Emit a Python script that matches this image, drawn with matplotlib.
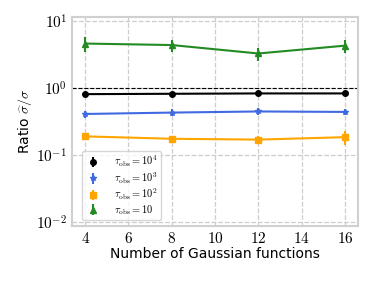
import numpy as np
import matplotlib
matplotlib.use("Agg")
import matplotlib.pyplot as plt
from matplotlib.ticker import FuncFormatter, NullLocator

plt.rcParams['mathtext.fontset'] = 'cm'
plt.rcParams['font.family'] = ['DejaVu Sans']

# number of gaussian functions
n_gauss = [4, 8, 12, 16]

# ratio sigma_hat / sigma for each observation time
r_1e4 = [0.81, 0.82, 0.83, 0.83]
e_1e4 = [0.02, 0.02, 0.02, 0.02]
r_1e3 = [0.41, 0.43, 0.447, 0.44]
e_1e3 = [0.05, 0.05, 0.05, 0.05]
r_1e2 = [0.19, 0.175, 0.17, 0.185]
e_1e2 = [0.02, 0.02, 0.02, 0.045]
r_1e1 = [4.6, 4.37, 3.27, 4.28]
e_1e1 = [1.2, 0.9, 0.7, 0.9]

labels = [r'$\tau_{\rm obs}=10^4$', r'$\tau_{\rm obs}=10^3$',
          r'$\tau_{\rm obs}=10^2$', r'$\tau_{\rm obs}=10$']
colors = ['black', 'royalblue', 'orange', 'forestgreen']
markers = ['o', '*', 's', '^']

fig, ax = plt.subplots(figsize=(3.74, 2.81), dpi=100)

series = [(r_1e4, e_1e4), (r_1e3, e_1e3), (r_1e2, e_1e2), (r_1e1, e_1e1)]
for (r, e), lab, c, m in zip(series, labels, colors, markers):
    ax.plot(n_gauss, r, color=c, lw=1.5)
    ax.errorbar(n_gauss, r, yerr=e, fmt=m, color=c, ms=4, elinewidth=1.5,
                linestyle='none', label=lab)

ax.axhline(1.0, color='black', ls='--', lw=0.8)

ax.set_yscale('log')
ax.set_ylim(8.7e-3, 11.5)
ax.yaxis.set_major_formatter(FuncFormatter(lambda v, p: r'$10^{%d}$' % round(np.log10(v))))
ax.yaxis.set_minor_locator(NullLocator())
ax.set_xticks([4, 6, 8, 10, 12, 14, 16])
ax.xaxis.set_major_formatter(FuncFormatter(lambda v, p: r'$%d$' % v))
ax.tick_params(length=0, labelsize=11)
ax.grid(True, ls='--', color='#cccccc', lw=0.9)
for s in ax.spines.values():
    s.set_color('#d0d0d0')
    s.set_linewidth(1.5)

ax.set_xlabel('Number of Gaussian functions', fontsize=10, labelpad=1)
ax.set_ylabel(r'Ratio $\widehat{\sigma}/\sigma$', fontsize=10, labelpad=2)

leg = ax.legend(loc='lower left', bbox_to_anchor=(0.035, 0.03), borderaxespad=0,
                fontsize=7.5, frameon=True, handletextpad=1.3,
                borderpad=0.3, labelspacing=0.1, handlelength=1.5,
                handleheight=0.5)
leg.get_frame().set_edgecolor('#cccccc')

plt.subplots_adjust(left=0.193, right=0.957, top=0.94, bottom=0.195)
plt.savefig('out.png', dpi=100)
